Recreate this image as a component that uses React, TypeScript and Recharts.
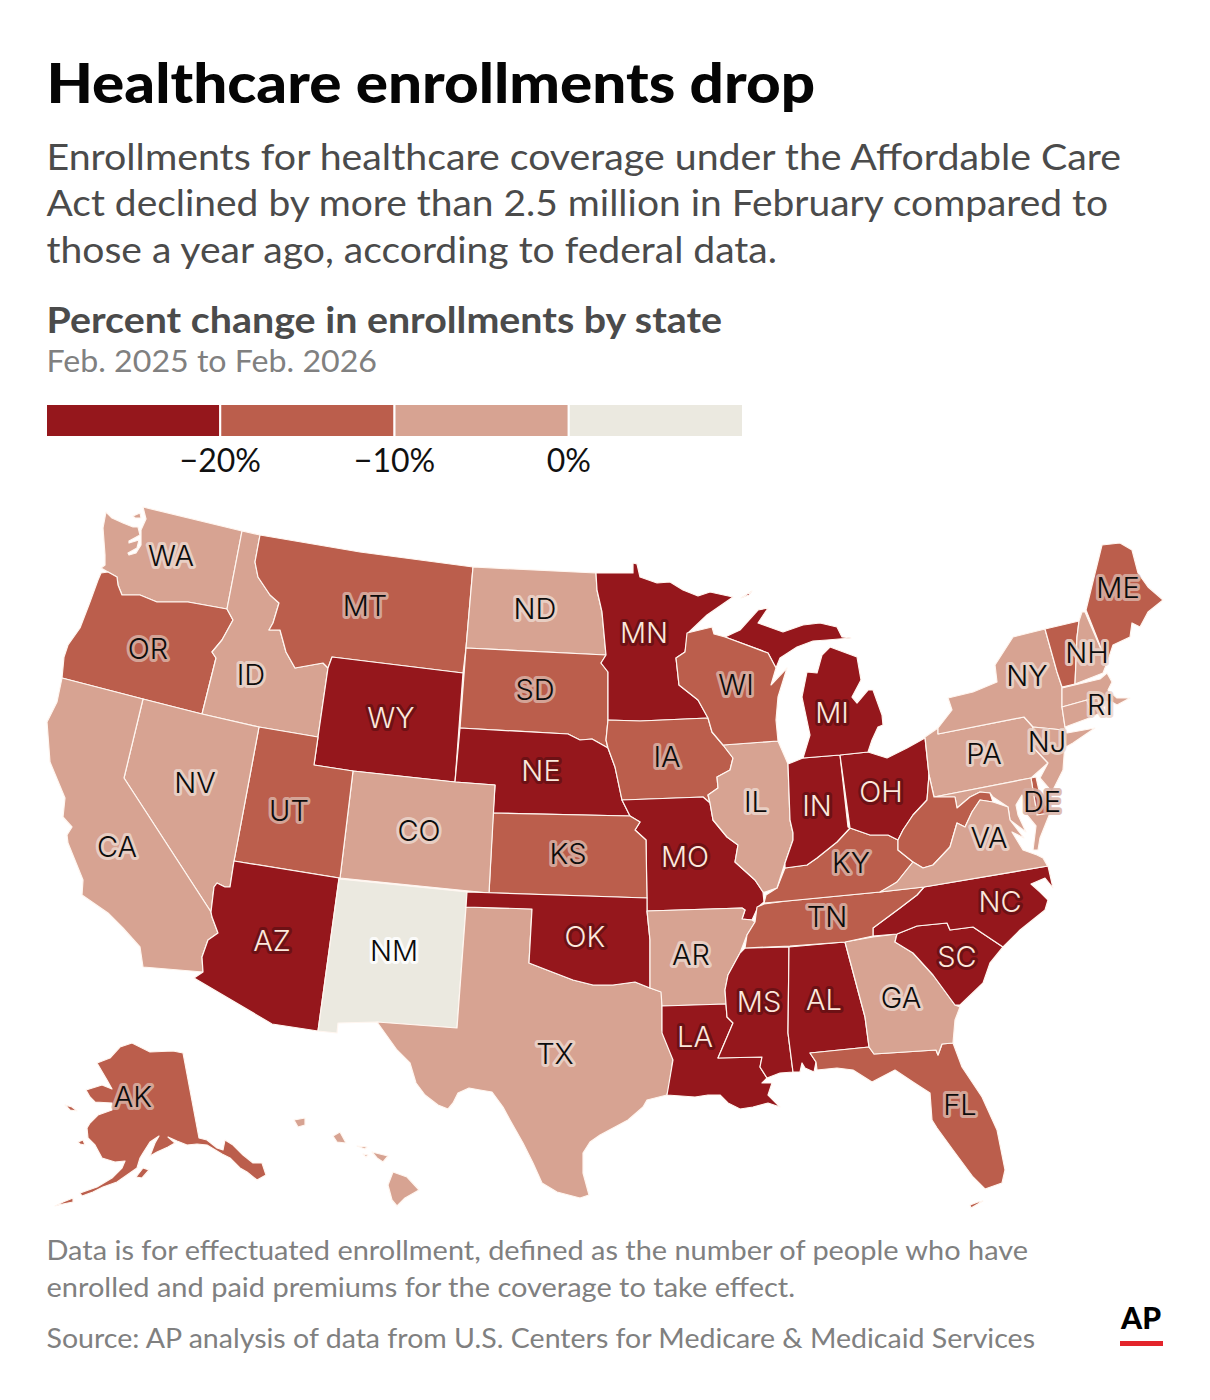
import React from 'react';
import { ScatterChart, Scatter, XAxis, YAxis, BarChart, Bar } from 'recharts';

const binColors = ['#95171c', '#bb5e4c', '#d7a392', '#ebe9e0'];
const haloColors = ['#661014', '#d9b1a5', '#ecd6cd', '#ffffff'];
const inkColors = ['#fce8dc', '#0c0c0c', '#0c0c0c', '#0c0c0c'];

const darkStates = ['WY', 'AZ', 'NE', 'OK', 'MN', 'MO', 'LA', 'MS', 'AL', 'IN', 'OH', 'MI', 'NC', 'SC'];
const mediumStates = ['OR', 'MT', 'UT', 'SD', 'KS', 'IA', 'WI', 'KY', 'TN', 'WV', 'FL', 'ME', 'VT', 'AK', 'DE'];
const paleStates = ['NM'];

const binOf = (code: string) =>
  darkStates.includes(code) ? 0 : mediumStates.includes(code) ? 1 : paleStates.includes(code) ? 3 : 2;

const legendBins = [{ a: 10, b: 10, c: 10, d: 10 }];
const legendTicks = [10, 20, 30];
const legendTickLabels = ['\u221220%', '\u221210%', '0%'];

const labels: [string, number, number][] = [
  ['WA', 171, 556], ['OR', 148, 649], ['CA', 117, 847], ['NV', 195, 783], ['ID', 251, 675], ['MT', 365, 606],
  ['WY', 391, 718], ['UT', 289, 811], ['AZ', 272, 941], ['CO', 419, 831], ['NM', 394, 951], ['ND', 535, 609],
  ['SD', 535, 690], ['NE', 541, 771], ['KS', 568, 854], ['OK', 585, 937], ['TX', 555, 1054], ['MN', 644, 633],
  ['IA', 667, 757], ['MO', 685, 857], ['AR', 691, 955], ['LA', 695, 1037], ['WI', 736, 685], ['IL', 756, 802],
  ['IN', 817, 806], ['MI', 832, 713], ['OH', 881, 792], ['KY', 851, 863], ['TN', 827, 917], ['MS', 759, 1002],
  ['AL', 824, 1000], ['GA', 901, 998], ['FL', 960, 1105], ['SC', 957, 957], ['NC', 1000, 902], ['VA', 989, 838],
  ['PA', 984, 754], ['NY', 1027, 676], ['NJ', 1047, 742], ['DE', 1042, 802], ['ME', 1118, 588], ['NH', 1087, 653],
  ['RI', 1100, 705], ['AK', 133, 1097],
];

const outlines: Record<string, number[][]> = {
  WA: [
    [143,507, 242,531, 227,609, 188,602, 157,602, 140,595, 122,595, 118,585, 117,577, 108,572, 101,568, 105,565, 105,555, 103,528, 106,512, 112,518, 123,523, 133,527, 138,527, 140,535, 129,541, 129,543, 139,540, 137,548, 128,553, 129,555, 136,553, 141,545, 141,530, 146,519],
    [133,516, 140,513, 141,518, 135,518],
  ],
  OR: [[101,573, 108,572, 117,577, 118,585, 122,595, 140,595, 157,602, 188,602, 227,609, 233,620, 222,640, 212,652, 216,658, 202,714, 143,699, 62,678, 64,657, 68,645, 80,628, 90,602, 98,580]],
  ID: [[242,531, 260,535, 255,562, 258,577, 270,595, 279,603, 273,623, 269,630, 280,630, 286,652, 295,668, 323,663, 328,668, 318,737, 259,727, 202,714, 216,658, 212,652, 222,640, 233,620, 227,609]],
  MT: [[260,535, 360,552, 473,567, 466,648, 463,673, 332,657, 328,668, 323,663, 295,668, 286,652, 280,630, 269,630, 273,623, 279,603, 270,595, 258,577, 255,562]],
  WY: [[332,657, 463,673, 455,782, 353,771, 314,765, 318,737, 328,668]],
  ND: [[473,567, 596,573, 597,590, 602,612, 606,655, 466,648]],
  SD: [[466,648, 606,655, 601,663, 608,672, 608,720, 606,740, 608,748, 592,739, 580,740, 568,734, 460,728]],
  NE: [[460,728, 568,734, 580,740, 592,739, 608,748, 615,767, 622,800, 630,816, 493,813, 495,785, 455,782]],
  MN: [
    [596,573, 633,573, 633,563, 637,564, 640,577, 657,583, 670,582, 683,590, 698,596, 710,592, 733,597, 707,615, 688,633, 685,652, 676,658, 679,685, 698,700, 708,718, 640,721, 608,720, 608,672, 601,663, 606,655, 602,612, 597,590],
  ],
  IA: [[608,720, 640,721, 708,718, 712,732, 723,745, 733,758, 730,770, 717,777, 718,788, 708,795, 710,803, 703,797, 622,800, 615,767, 608,748, 606,740]],
  MO: [[622,800, 703,797, 710,803, 713,820, 727,837, 738,845, 735,862, 755,880, 763,892, 764,902, 758,907, 752,920, 742,919, 745,910, 742,908, 647,911, 646,840, 635,830, 640,822, 630,816]],
  KS: [[493,813, 630,816, 640,822, 635,830, 646,840, 647,898, 489,893]],
  CO: [[353,771, 455,782, 495,785, 489,893, 340,878]],
  UT: [[259,727, 318,737, 314,765, 353,771, 340,878, 234,861]],
  NV: [[143,699, 202,714, 259,727, 234,861, 230,887, 225,887, 217,883, 214,887, 211,912, 124,778]],
  CA: [[62,678, 143,699, 124,778, 211,912, 212,917, 218,933, 208,940, 202,957, 203,972, 143,967, 140,947, 123,928, 108,913, 82,895, 83,880, 68,843, 67,835, 72,827, 63,817, 65,798, 50,762, 47,722, 57,702]],
  AZ: [[234,861, 339,878, 318,1031, 272,1024, 194,978, 203,972, 202,957, 208,940, 218,933, 212,917, 211,912, 214,887, 217,883, 225,887, 230,887]],
  NM: [[339,879, 467,892, 466,907, 457,1028, 376,1022, 338,1023, 337,1033, 318,1031]],
  TX: [[466,907, 532,909, 529,963, 547,970, 573,980, 593,985, 613,985, 635,982, 650,988, 662,992, 662,1030, 673,1057, 670,1083, 667,1095, 647,1100, 643,1107, 628,1120, 600,1135, 590,1142, 583,1153, 583,1173, 589,1195, 580,1198, 557,1192, 542,1183, 533,1163, 523,1143, 510,1120, 503,1107, 492,1092, 480,1090, 469,1088, 458,1093, 453,1103, 448,1109, 438,1105, 425,1095, 416,1083, 410,1063, 397,1050, 377,1022, 457,1028]],
  OK: [[467,892, 647,898, 647,911, 650,940, 650,988, 635,982, 613,985, 593,985, 573,980, 547,970, 529,963, 532,909, 466,907]],
  AR: [[647,911, 742,908, 745,910, 742,919, 752,920, 755,922, 747,935, 740,953, 728,975, 725,990, 726,1004, 662,1006, 661,992, 650,988, 650,940]],
  LA: [[662,1006, 726,1004, 727,1017, 733,1023, 718,1058, 762,1057, 760,1067, 767,1078, 762,1083, 772,1083, 768,1095, 780,1107, 768,1103, 753,1107, 740,1109, 728,1103, 720,1095, 708,1095, 695,1097, 667,1095, 673,1060, 662,1033]],
  MS: [[745,948, 789,947, 788,1033, 793,1072, 780,1073, 767,1078, 760,1067, 762,1057, 718,1058, 733,1023, 727,1017, 726,1004, 725,990, 728,975, 740,953]],
  AL: [[789,947, 845,942, 865,1017, 869,1047, 810,1053, 816,1062, 814,1072, 805,1068, 802,1063, 800,1072, 793,1072, 788,1033]],
  FL: [
    [810,1053, 869,1047, 874,1054, 936,1050, 938,1055, 942,1044, 953,1043, 962,1067, 982,1097, 997,1130, 1005,1170, 1002,1183, 985,1189, 973,1177, 953,1150, 937,1128, 932,1120, 930,1093, 913,1082, 895,1070, 872,1082, 853,1070, 837,1068, 817,1070, 816,1062],
    [983,1201, 971,1208, 970,1205, 978,1202],
  ],
  GA: [[845,942, 873,937, 897,934, 895,942, 913,953, 933,975, 955,1005, 960,1007, 955,1020, 953,1043, 942,1044, 938,1055, 936,1050, 874,1054, 869,1047, 865,1017]],
  SC: [[897,934, 917,926, 947,923, 950,930, 973,927, 1003,947, 990,963, 983,983, 960,1005, 955,1005, 933,975, 913,953, 895,942]],
  NC: [[924,887, 1048,866, 1053,888, 1045,878, 1031,884, 1040,892, 1048,900, 1045,910, 1020,930, 1003,947, 973,927, 950,930, 947,923, 917,926, 897,934, 873,936, 873,928, 900,908, 917,895]],
  TN: [[764,904, 787,901, 880,892, 924,887, 917,895, 900,908, 873,928, 873,936, 845,942, 790,946, 745,948, 747,935, 755,922, 757,907]],
  KY: [[764,903, 766,895, 777,888, 785,868, 807,865, 817,858, 837,842, 850,828, 870,835, 888,835, 898,840, 898,850, 913,862, 897,882, 888,888, 880,892, 787,901]],
  IL: [[723,745, 778,741, 785,757, 788,764, 790,820, 793,833, 793,840, 785,863, 777,888, 765,892, 763,892, 755,880, 735,862, 738,845, 727,837, 713,820, 710,803, 708,795, 718,788, 717,777, 730,770, 733,758]],
  IN: [[788,764, 803,758, 840,755, 848,827, 850,828, 837,842, 817,858, 807,865, 785,868, 785,863, 793,840, 793,833, 790,820]],
  OH: [[840,755, 868,752, 887,758, 907,748, 925,738, 929,775, 927,800, 913,815, 903,830, 898,840, 888,835, 870,835, 850,828]],
  MI: [
    [803,758, 840,755, 868,752, 872,740, 878,727, 883,725, 882,715, 873,690, 868,690, 857,703, 852,697, 861,680, 857,657, 830,647, 822,655, 817,673, 807,672, 802,697, 810,735],
    [725,637, 740,630, 758,610, 768,608, 758,623, 783,632, 803,625, 820,623, 837,627, 842,637, 851,638, 827,640, 813,641, 797,647, 780,658, 776,668, 768,653],
    [741,598, 752,591, 749,595],
  ],
  WI: [[687,633, 712,627, 714,634, 725,637, 768,653, 776,668, 771,685, 787,668, 778,697, 776,720, 778,741, 723,745, 712,732, 708,718, 698,700, 679,685, 676,658, 685,652]],
  PA: [[925,737, 938,728, 938,734, 1024,717, 1033,727, 1031,745, 1048,763, 1031,778, 934,797, 929,775]],
  NY: [[938,728, 952,710, 948,698, 973,692, 997,682, 995,665, 1013,637, 1045,629, 1057,672, 1062,687, 1062,707, 1065,727, 1067,733, 1095,728, 1073,743, 1066,747, 1063,730, 1033,727, 1024,717, 938,734]],
  VT: [[1045,629, 1079,621, 1077,637, 1075,684, 1062,687, 1057,672]],
  NH: [[1079,621, 1082,612, 1085,612, 1107,663, 1103,673, 1075,684, 1077,637]],
  ME: [[1086,610, 1102,545, 1120,543, 1132,550, 1138,573, 1148,587, 1163,600, 1148,612, 1140,627, 1132,623, 1130,637, 1113,645, 1107,663]],
  MA: [[1062,688, 1100,679, 1107,673, 1112,682, 1108,690, 1117,698, 1130,698, 1117,705, 1112,702, 1087,700, 1062,707]],
  CT: [[1062,707, 1087,700, 1092,717, 1065,727]],
  RI: [[1087,700, 1098,698, 1100,713, 1092,717]],
  NJ: [[1033,727, 1063,730, 1065,743, 1063,770, 1052,792, 1040,778, 1048,763, 1031,745]],
  DE: [[1031,778, 1036,777, 1040,795, 1050,813, 1037,815]],
  MD: [[934,797, 1031,778, 1037,815, 1050,813, 1040,838, 1038,850, 1033,850, 1036,826, 1027,815, 1022,795, 1016,805, 1018,815, 1026,832, 1010,820, 1008,807, 993,797, 990,793, 980,792, 970,797, 957,808, 955,797]],
  WV: [[929,775, 934,797, 955,797, 957,808, 970,797, 980,792, 990,793, 993,802, 980,800, 972,812, 965,827, 957,823, 950,847, 933,865, 923,868, 913,862, 898,850, 898,840, 903,830, 913,815, 927,800]],
  VA: [[880,892, 897,882, 913,862, 923,868, 933,865, 950,847, 957,823, 965,827, 972,812, 980,800, 993,802, 1008,807, 1010,820, 1024,838, 1012,832, 1023,850, 1037,855, 1043,858, 1047,865, 1048,866, 924,887]],
  AK: [
    [132,1043, 150,1052, 173,1051, 183,1053, 199,1138, 207,1140, 217,1148, 223,1150, 225,1140, 233,1145, 243,1155, 253,1163, 262,1163, 266,1175, 257,1180, 247,1172, 240,1168, 230,1158, 222,1154, 207,1145, 197,1144, 187,1145, 177,1141, 168,1137, 175,1143, 168,1147, 157,1152, 150,1156, 155,1143, 159,1136, 150,1142, 143,1153, 140,1158, 137,1168, 117,1182, 103,1187, 93,1192, 82,1196, 80,1193, 97,1187, 112,1178, 122,1168, 125,1161, 115,1162, 102,1158, 95,1145, 88,1138, 87,1128, 90,1123, 98,1115, 112,1110, 112,1103, 95,1102, 90,1097, 86,1090, 102,1085, 112,1089, 107,1080, 97,1063, 110,1058, 120,1047],
    [136,1177, 143,1168, 149,1170, 142,1178],
    [55,1206, 63,1202, 73,1198, 73,1202, 63,1204],
    [65,1105, 72,1107, 77,1111, 70,1110],
    [78,1142, 83,1140, 85,1145, 80,1144],
  ],
  HI: [
    [294,1120, 305,1118, 305,1125, 298,1127],
    [333,1136, 340,1132, 346,1143, 337,1142],
    [357,1146, 367,1147, 365,1149],
    [363,1154, 368,1155, 366,1157],
    [372,1152, 388,1156, 383,1162, 377,1158],
    [393,1172, 407,1177, 419,1190, 405,1198, 397,1206, 392,1200, 388,1185],
  ],
};

const shapes = Object.entries(outlines).flatMap(([code, parts]) =>
  parts.map((flat, i) => ({
    key: `${code}-${i}`,
    code,
    points: flat.reduce<{ x: number; y: number }[]>((acc, v, j) => {
      if (j % 2 === 0) acc.push({ x: v, y: flat[j + 1] });
      return acc;
    }, []),
  }))
);

const labelPoints = labels.map(([code, x, y]) => ({ code, x, y }));

const polygon = (color: string) => (props: any) => {
  const pts = props.points as { x: number; y: number }[];
  const d = pts.map((p, i) => `${i ? 'L' : 'M'}${p.x} ${p.y}`).join(' ') + ' Z';
  return <path d={d} fill={color} stroke="#fff6f0" strokeWidth={1.2} strokeLinejoin="round" />;
};

const noMark = () => <g />;

const StateLabel = (props: any) => {
  const bin = binOf(props.payload.code);
  return (
    <text
      x={props.cx}
      y={props.cy}
      dy="0.36em"
      textAnchor="middle"
      fontFamily="Inter, 'Noto Sans', sans-serif"
      fontSize={29}
      fontWeight={300}
      fill={inkColors[bin]}
      stroke={haloColors[bin]}
      strokeWidth={6}
      strokeLinejoin="round"
      strokeOpacity={0.85}
      style={{ paintOrder: 'stroke' }}
    >
      {props.payload.code}
    </text>
  );
};

const SANS = "Lato, 'Noto Sans', sans-serif";

type Line = { text: string; y: number; x2: number; size: number; weight: number; color: string };
const textLines: Line[] = [
  { text: 'Healthcare enrollments drop', y: 103, x2: 815, size: 56, weight: 900, color: '#050505' },
  { text: 'Enrollments for healthcare coverage under the Affordable Care', y: 170, x2: 1121, size: 36, weight: 400, color: '#4b4b4b' },
  { text: 'Act declined by more than 2.5 million in February compared to', y: 216, x2: 1108, size: 36, weight: 400, color: '#4b4b4b' },
  { text: 'those a year ago, according to federal data.', y: 263, x2: 777, size: 36, weight: 400, color: '#4b4b4b' },
  { text: 'Percent change in enrollments by state', y: 333, x2: 722, size: 36, weight: 700, color: '#4b4b4b' },
  { text: 'Feb. 2025 to Feb. 2026', y: 372, x2: 377, size: 31, weight: 400, color: '#808080' },
  { text: 'Data is for effectuated enrollment, defined as the number of people who have', y: 1260, x2: 1028, size: 27, weight: 400, color: '#808080' },
  { text: 'enrolled and paid premiums for the coverage to take effect.', y: 1297, x2: 795, size: 27, weight: 400, color: '#808080' },
  { text: 'Source: AP analysis of data from U.S. Centers for Medicare & Medicaid Services', y: 1348, x2: 1035, size: 27, weight: 400, color: '#808080' },
];

const LEFT = 46.5;

export default function App() {
  return (
    <div style={{ position: 'absolute', left: 0, top: 0, width: 1210, height: 1400, background: '#fff', overflow: 'hidden' }}>
      <svg width={1210} height={1400} style={{ position: 'absolute', left: 0, top: 0 }}>
        {textLines.map((l) => (
          <text
            key={l.text}
            x={LEFT}
            y={l.y}
            fontFamily={SANS}
            fontSize={l.size}
            fontWeight={l.weight}
            fill={l.color}
            textLength={l.x2 - LEFT}
            lengthAdjust="spacingAndGlyphs"
          >
            {l.text}
          </text>
        ))}
        <text x={1121} y={1329} fontFamily={SANS} fontSize={31} fontWeight={900} fill="#000" textLength={40} lengthAdjust="spacingAndGlyphs">AP</text>
        <rect x={1120} y={1341} width={43} height={5} fill="#e3242b" />
      </svg>

      <div style={{ position: 'absolute', left: 46, top: 404 }}>
        <BarChart
          width={760}
          height={82}
          data={legendBins}
          layout="vertical"
          margin={{ top: 0, right: 63, bottom: 0, left: 0 }}
          barCategoryGap={0}
        >
          <XAxis
            type="number"
            domain={[0, 40]}
            ticks={legendTicks}
            tickFormatter={(v: number) => legendTickLabels[legendTicks.indexOf(v)]}
            axisLine={false}
            tickLine={false}
            tick={{ fontFamily: SANS, fontSize: 32, fill: '#111' }}
            tickMargin={6}
            height={49}
            interval={0}
          />
          <YAxis type="category" hide />
          <Bar dataKey="a" stackId="s" fill={binColors[0]} stroke="#fff" strokeWidth={2} isAnimationActive={false} />
          <Bar dataKey="b" stackId="s" fill={binColors[1]} stroke="#fff" strokeWidth={2} isAnimationActive={false} />
          <Bar dataKey="c" stackId="s" fill={binColors[2]} stroke="#fff" strokeWidth={2} isAnimationActive={false} />
          <Bar dataKey="d" stackId="s" fill={binColors[3]} stroke="#fff" strokeWidth={2} isAnimationActive={false} />
        </BarChart>
      </div>

      <div style={{ position: 'absolute', left: 0, top: 0 }}>
        <ScatterChart width={1210} height={1400} margin={{ top: 0, right: 0, bottom: 0, left: 0 }}>
          <XAxis type="number" dataKey="x" domain={[0, 1210]} hide />
          <YAxis type="number" dataKey="y" domain={[0, 1400]} reversed hide />
          {shapes.map((s) => (
            <Scatter
              key={s.key}
              data={s.points}
              shape={noMark}
              line={polygon(binColors[binOf(s.code)])}
              isAnimationActive={false}
            />
          ))}
          <Scatter data={labelPoints} shape={StateLabel} isAnimationActive={false} />
        </ScatterChart>
      </div>
    </div>
  );
}
